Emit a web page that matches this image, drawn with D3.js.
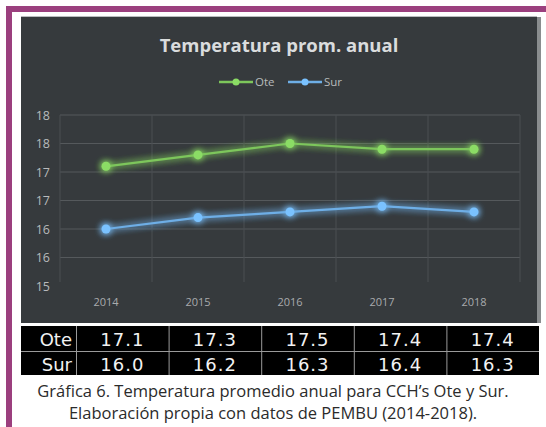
<!DOCTYPE html>
<html>
<head>
<meta charset="utf-8">
<script src="https://cdn.jsdelivr.net/npm/d3@7/dist/d3.min.js"></script>
<style>
  html, body { margin: 0; padding: 0; background: #ffffff; }
  svg { display: block; }
</style>
</head>
<body>
<svg id="chart" width="546" height="427"></svg>
<script>
// Annual mean temperature, CCH Oriente and Sur campuses
const years = ["2014", "2015", "2016", "2017", "2018"];
const oteValues = [17.1, 17.3, 17.5, 17.4, 17.4];
const surValues = [16.0, 16.2, 16.3, 16.4, 16.3];
const seriesNames = ["Ote", "Sur"];
const yTicks = [15, 15.5, 16, 16.5, 17, 17.5, 18];
const yTickLabels = ["15", "16", "16", "17", "17", "18", "18"];
const titleText = "Temperatura prom. anual";
const captionLines = [
  "Gráfica 6. Temperatura promedio anual para CCH’s Ote y Sur.",
  "Elaboración propia con datos de PEMBU (2014-2018)."
];

const colors = { Ote: "#7dc65b", Sur: "#6eaee6" };
const series = [
  { name: seriesNames[0], values: oteValues },
  { name: seriesNames[1], values: surValues }
];

const svg = d3.select("#chart");

// purple page frame
svg.append("rect").attr("x", 6).attr("y", 6).attr("width", 540).attr("height", 6).attr("fill", "#9b3f7e");
svg.append("rect").attr("x", 6).attr("y", 6).attr("width", 6).attr("height", 421).attr("fill", "#9b3f7e");

// chart panel
svg.append("rect").attr("x", 537).attr("y", 17).attr("width", 4).attr("height", 306).attr("fill", "#8a8d8f");
svg.append("rect").attr("x", 21).attr("y", 16).attr("width", 516).attr("height", 1).attr("fill", "#b9bcbe");
svg.append("rect").attr("x", 21).attr("y", 17).attr("width", 516).attr("height", 306).attr("fill", "#363a3d");

const defs = svg.append("defs");
const glow = defs.append("filter").attr("id", "glow")
  .attr("x", "-10%").attr("y", "-50%").attr("width", "120%").attr("height", "200%");
glow.append("feGaussianBlur").attr("in", "SourceGraphic").attr("stdDeviation", 3.5).attr("result", "blur");
const merge = glow.append("feMerge");
merge.append("feMergeNode").attr("in", "blur");
merge.append("feMergeNode").attr("in", "blur");
merge.append("feMergeNode").attr("in", "SourceGraphic");

const plot = { left: 60, right: 520, top: 115, bottom: 286 };

const x = d3.scaleBand().domain(years).range([plot.left, plot.right]).padding(0);
const y = d3.scaleLinear().domain([15, 18]).range([plot.bottom, plot.top]);

// gridlines
const grid = svg.append("g");
grid.selectAll("line.h").data(yTicks.slice(1)).join("line")
  .attr("x1", plot.left).attr("x2", plot.right)
  .attr("y1", d => y(d)).attr("y2", d => y(d))
  .attr("stroke", "#55595c").attr("stroke-width", 1);
const vLines = years.map(d => x(d)).concat([x(years[years.length - 1]) + x.bandwidth()]);
grid.selectAll("line.v").data(vLines).join("line")
  .attr("x1", d => d).attr("x2", d => d)
  .attr("y1", plot.top).attr("y2", plot.bottom - 4)
  .attr("stroke", "#4b4f52").attr("stroke-width", 1);

// y axis labels
const yAxis = d3.axisLeft(y).tickValues(yTicks)
  .tickFormat((d, i) => yTickLabels[i]).tickSize(0).tickPadding(0);
const yg = svg.append("g").attr("transform", `translate(50,0)`).call(yAxis);
yg.select(".domain").remove();
yg.selectAll("text").attr("fill", "#b8babc").attr("font-family", "Open Sans, sans-serif").attr("font-size", 12.5);

// x axis labels
const xAxis = d3.axisBottom(x).tickSize(0).tickPadding(0);
const xg = svg.append("g").attr("transform", `translate(0,298)`).call(xAxis);
xg.select(".domain").remove();
xg.selectAll("text").attr("fill", "#a9abad").attr("font-family", "Open Sans, sans-serif").attr("font-size", 11);

// series lines with glow
const line = d3.line().x((d, i) => x(years[i]) + x.bandwidth() / 2).y(d => y(d));
const sg = svg.append("g").selectAll("g").data(series).join("g").attr("filter", "url(#glow)");
sg.append("path")
  .attr("d", d => line(d.values))
  .attr("fill", "none").attr("stroke", d => colors[d.name]).attr("stroke-width", 2.2);
sg.selectAll("circle").data(d => d.values.map(v => ({ v, name: d.name }))).join("circle")
  .attr("cx", (d, i) => x(years[i]) + x.bandwidth() / 2)
  .attr("cy", d => y(d.v))
  .attr("r", 4.5)
  .attr("fill", d => d3.color(colors[d.name]).brighter(0.3));

// title
svg.append("text").attr("x", 279).attr("y", 52).attr("text-anchor", "middle")
  .attr("font-family", "Open Sans, sans-serif").attr("font-weight", "bold").attr("font-size", 18.5)
  .attr("fill", "#dadcdd").text(titleText);

// legend
const legendItems = [{ name: seriesNames[0], x: 219 }, { name: seriesNames[1], x: 288 }];
const lg = svg.append("g").selectAll("g").data(legendItems).join("g")
  .attr("transform", d => `translate(${d.x},82)`);
lg.append("line").attr("x1", 0).attr("x2", 34).attr("y1", 0).attr("y2", 0)
  .attr("stroke", d => colors[d.name]).attr("stroke-width", 2.5);
lg.append("circle").attr("cx", 17).attr("cy", 0).attr("r", 3.5)
  .attr("fill", d => d3.color(colors[d.name]).brighter(0.3));
lg.append("text").attr("x", 36).attr("y", 4)
  .attr("font-family", "Open Sans, sans-serif").attr("font-size", 11.5)
  .attr("fill", "#b8babc").text(d => d.name);

// data table under the chart
const table = { left: 21, right: 539, top: 326, rowH: 25, headW: 55 };
const colW = (table.right - table.left - table.headW) / years.length;
const tg = svg.append("g");
tg.append("rect").attr("x", table.left).attr("y", table.top)
  .attr("width", table.right - table.left).attr("height", table.rowH * 2 - 1).attr("fill", "#000000");
series.forEach((s, r) => {
  const cy = table.top + r * table.rowH + table.rowH / 2;
  tg.append("text").attr("x", table.left + table.headW - 4).attr("y", cy + 7)
    .attr("text-anchor", "end").attr("font-family", "DejaVu Sans, sans-serif").attr("font-size", 18)
    .attr("fill", "#f2f2f2").text(s.name);
  s.values.forEach((v, i) => {
    tg.append("text").attr("x", table.left + table.headW + colW * (i + 0.5)).attr("y", cy + 7)
      .attr("text-anchor", "middle").attr("font-family", "DejaVu Sans, sans-serif").attr("font-size", 18)
      .attr("letter-spacing", 1)
      .attr("fill", "#f2f2f2").text(v.toFixed(1));
  });
});
tg.append("line").attr("x1", table.left).attr("x2", table.right)
  .attr("y1", table.top + table.rowH + 0.5).attr("y2", table.top + table.rowH + 0.5)
  .attr("stroke", "#9a9a9a").attr("stroke-width", 1);
d3.range(years.length).forEach(i => {
  const cx = table.left + table.headW + colW * i + 0.5;
  tg.append("line").attr("x1", cx).attr("x2", cx)
    .attr("y1", table.top).attr("y2", table.top + table.rowH * 2 - 1)
    .attr("stroke", "#9a9a9a").attr("stroke-width", 1);
});

// caption
svg.append("g").selectAll("text").data(captionLines).join("text")
  .attr("x", 273).attr("y", (d, i) => 397 + i * 21.5)
  .attr("text-anchor", "middle").attr("font-family", "Open Sans, sans-serif").attr("font-size", 16.5)
  .attr("fill", "#2b2b2b").text(d => d);
</script>
</body>
</html>
